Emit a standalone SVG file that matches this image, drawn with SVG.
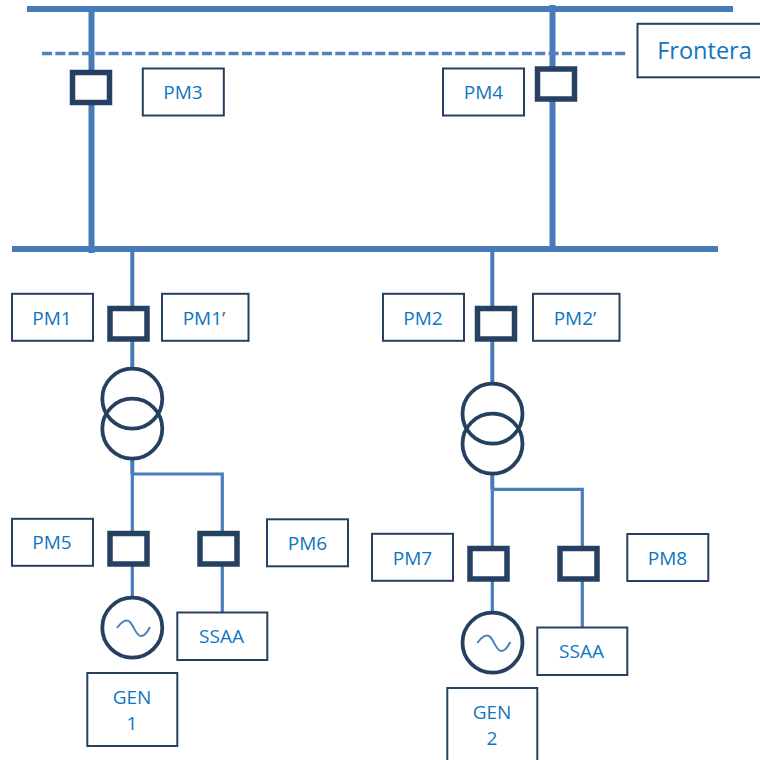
<svg xmlns="http://www.w3.org/2000/svg" width="760" height="760" viewBox="0 0 760 760">
<style>
.bus{stroke:#477ab8;stroke-width:6;fill:none}
.dash{stroke:#4f81bd;stroke-width:3.600;stroke-dasharray:10 3.33;fill:none}
.wire{stroke:#477ab8;stroke-width:4;fill:none}
.thin{stroke:#4a7dbb;stroke-width:3.200;fill:none}
.brk{fill:#fff;stroke:#254061;stroke-width:5.500}
.box{fill:#fff;stroke:#254061;stroke-width:2}
.ring{fill:none;stroke:#254061;stroke-width:3.800}
.gen{fill:#fff;stroke:#254061;stroke-width:3.800}
.sine{fill:none;stroke:#4f81bd;stroke-width:2}
text{font-family:"Open Sans","Noto Sans","Liberation Sans",sans-serif;font-size:19px;fill:#0e76c2;text-anchor:middle}
</style>
<defs>
<path id="sine" class="sine" d="M117 628 C123 620 127 619 130 622 C134 626 136 636 141 636 C144 636 147 633 150 627"/>
</defs>
<g id="connectors">
<path class="bus" d="M27 9H733M12 249H718M91.500 9V253M552.500 5V247"/>
<path class="dash" d="M42 53.500H626"/>
<path class="wire" d="M132.300 249V368M132.300 459V474M492.300 249V383M492.300 474V489.300"/>
<path class="thin" d="M132.300 474V531M132.300 474H222.300V612M132.300 566V597M492.300 489.300V546M492.300 489.300H582.300V627M492.300 581V612"/>
</g>
<g id="breaker-pm3"><rect class="brk" x="72.500" y="72.500" width="37" height="30"/></g>
<g id="breaker-pm4"><rect class="brk" x="537.500" y="69" width="37" height="30"/></g>
<g id="breaker-pm1"><rect class="brk" x="110" y="308.500" width="37" height="30.500"/></g>
<g id="breaker-pm2"><rect class="brk" x="477.500" y="308.500" width="37" height="30.500"/></g>
<g id="breaker-pm5"><rect class="brk" x="110" y="533.500" width="37" height="30.500"/></g>
<g id="breaker-pm6"><rect class="brk" x="200" y="533.500" width="37" height="30.500"/></g>
<g id="breaker-pm7"><rect class="brk" x="470" y="548.500" width="37" height="30.500"/></g>
<g id="breaker-pm8"><rect class="brk" x="560" y="548.500" width="37" height="30.500"/></g>
<g id="transformer-1"><circle class="ring" cx="132.300" cy="398.700" r="30"/><circle class="ring" cx="132.300" cy="428.700" r="30"/></g>
<g id="transformer-2"><circle class="ring" cx="492.500" cy="413.700" r="30"/><circle class="ring" cx="492.500" cy="443.700" r="30"/></g>
<g id="generator-1"><circle class="gen" cx="132.300" cy="627.700" r="30"/><use href="#sine"/></g>
<g id="generator-2"><circle class="gen" cx="492.500" cy="642.700" r="30"/><use href="#sine" x="360.300" y="15"/></g>
<g id="label-pm3"><rect class="box" x="142.800" y="68.500" width="81" height="47"/><text x="183" y="99">PM3</text></g>
<g id="label-pm4"><rect class="box" x="443" y="68.500" width="81" height="47"/><text x="483.500" y="99">PM4</text></g>
<g id="label-frontera"><rect class="box" x="637.500" y="23.800" width="130" height="53.500"/><text x="704.500" y="59" style="font-size:23.500px">Frontera</text></g>
<g id="label-pm1"><rect class="box" x="12" y="293.800" width="81" height="47"/><text x="52" y="325">PM1</text></g>
<g id="label-pm1p"><rect class="box" x="162" y="293.800" width="86.500" height="47"/><text x="204" y="325">PM1’</text></g>
<g id="label-pm2"><rect class="box" x="383" y="293.800" width="81" height="47"/><text x="423" y="325">PM2</text></g>
<g id="label-pm2p"><rect class="box" x="533" y="293.800" width="86.500" height="47"/><text x="575" y="325">PM2’</text></g>
<g id="label-pm5"><rect class="box" x="12" y="518.800" width="81" height="47"/><text x="52" y="549">PM5</text></g>
<g id="label-pm6"><rect class="box" x="267" y="519.300" width="81" height="47"/><text x="307.500" y="550">PM6</text></g>
<g id="label-pm7"><rect class="box" x="372" y="533.800" width="81" height="47"/><text x="412.500" y="565">PM7</text></g>
<g id="label-pm8"><rect class="box" x="627.300" y="534" width="81" height="47"/><text x="667.500" y="565">PM8</text></g>
<g id="label-ssaa-1"><rect class="box" x="177.300" y="612.500" width="90" height="47.500"/><text x="221.500" y="643">SSAA</text></g>
<g id="label-ssaa-2"><rect class="box" x="537.300" y="627.500" width="90" height="47.500"/><text x="581.500" y="658">SSAA</text></g>
<g id="label-gen-1"><rect class="box" x="87.300" y="673" width="90" height="73"/><text x="132" y="704">GEN</text><text x="132" y="730">1</text></g>
<g id="label-gen-2"><rect class="box" x="447.300" y="688" width="90" height="80"/><text x="492" y="719">GEN</text><text x="492" y="745">2</text></g>
</svg>
